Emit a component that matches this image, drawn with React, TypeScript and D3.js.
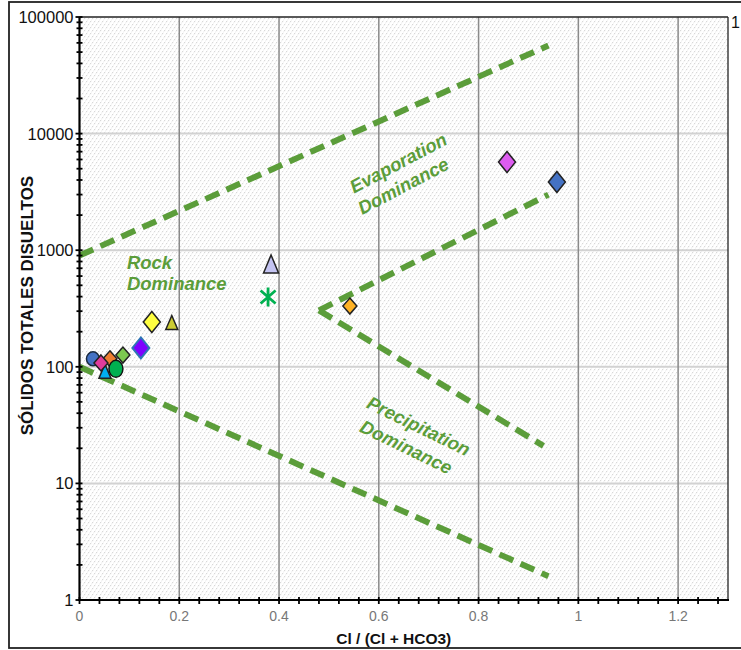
import React from "react";
import * as d3 from "d3";

// ---- data ----
const xTickValues = [0, 0.2, 0.4, 0.6, 0.8, 1, 1.2];
const xTickLabels = ["0", "0.2", "0.4", "0.6", "0.8", "1", "1.2"];
const yTickValues = [1, 10, 100, 1000, 10000, 100000];
const yTickLabels = ["1", "10", "100", "1000", "10000", "100000"];

// samples: Cl/(Cl+HCO3), TDS
const sampleX = [0.027, 0.061, 0.051, 0.043, 0.087, 0.073, 0.123, 0.145, 0.185, 0.384, 0.378, 0.542, 0.857, 0.957];
const sampleY = [117, 117, 90, 108, 126, 96, 145, 242, 235, 747, 397, 332, 5700, 3850];
const sampleShape = ["circle", "diamondS", "triangleS", "diamondS", "diamondS", "ellipse", "diamond", "diamond", "triangleS", "triangle", "asterisk", "diamondS", "diamond", "diamond"];
const sampleFill = ["#4472c4", "#ed7d31", "#00b0f0", "#e03c9c", "#7cc850", "#00b050", "#7f00ff", "#ffff40", "#cccc33", "#c4c4f2", "#00b050", "#ffb224", "#dd5cf0", "#4472c4"];
const sampleStroke = ["#1a2a40", "#222", "#222", "#222", "#222", "#111", "#2e75b6", "#222", "#222", "#222", "#00b050", "#222", "#222", "#222"];

// boundary lines (Gibbs diagram)
const boundaryLines = [
  [{ x: 0, y: 900 }, { x: 0.94, y: 57000 }],
  [{ x: 0, y: 100 }, { x: 0.94, y: 1.6 }],
  [{ x: 0.48, y: 305 }, { x: 0.94, y: 3000 }],
  [{ x: 0.48, y: 305 }, { x: 0.93, y: 21 }],
];

const annotations = [
  { text: "Evaporation", x: 0.639, y: 5600, angle: -28, anchor: "middle" },
  { text: "Dominance", x: 0.649, y: 3560, angle: -28, anchor: "middle" },
  { text: "Rock", x: 0.095, y: 690, angle: 0, anchor: "start" },
  { text: "Dominance", x: 0.095, y: 456, angle: 0, anchor: "start" },
  { text: "Precipitation", x: 0.68, y: 31, angle: 26, anchor: "middle" },
  { text: "Dominance", x: 0.655, y: 20.5, angle: 26, anchor: "middle" },
];

const W = 741;
const H = 650;
const left = 79.5;
const right = 728;
const top = 17;
const bottom = 600;
const GREEN = "#5b9d3a";
const FONT = "'Liberation Sans', Arial, sans-serif";

export default function App() {
  const x = d3.scaleLinear().domain([0, 1.3]).range([left, right]);
  const y = d3.scaleLog().domain([1, 100000]).range([bottom, top]);
  const line = d3
    .line<{ x: number; y: number }>()
    .x((d) => x(d.x))
    .y((d) => y(d.y));

  const xMinor = d3.range(0, 33).map((i) => i * 0.04);
  const yMinor: number[] = [];
  for (let p = 0; p < 5; p++) for (let k = 2; k <= 9; k++) yMinor.push(k * Math.pow(10, p));

  const marker = (i: number) => {
    const cx = x(sampleX[i]);
    const cy = y(sampleY[i]);
    const fill = sampleFill[i];
    const stroke = sampleStroke[i];
    const s = sampleShape[i];
    if (s === "circle") return <ellipse key={i} cx={cx} cy={cy} rx={6.5} ry={7} fill={fill} stroke={stroke} strokeWidth={1.5} />;
    if (s === "ellipse") return <ellipse key={i} cx={cx} cy={cy} rx={7} ry={8.5} fill={fill} stroke={stroke} strokeWidth={1.5} />;
    if (s === "diamond") {
      const w = 8.5, h = 10.5;
      return <path key={i} d={`M${cx},${cy - h}L${cx + w},${cy}L${cx},${cy + h}L${cx - w},${cy}Z`} fill={fill} stroke={stroke} strokeWidth={i === 6 ? 2 : 1.5} />;
    }
    if (s === "diamondS") {
      const w = 7, h = 8;
      return <path key={i} d={`M${cx},${cy - h}L${cx + w},${cy}L${cx},${cy + h}L${cx - w},${cy}Z`} fill={fill} stroke={stroke} strokeWidth={1.5} />;
    }
    if (s === "triangle") {
      return <path key={i} d={`M${cx},${cy - 10}L${cx + 7.5},${cy + 8}L${cx - 7.5},${cy + 8}Z`} fill={fill} stroke={stroke} strokeWidth={1.5} />;
    }
    if (s === "triangleS") {
      return <path key={i} d={`M${cx},${cy - 8}L${cx + 6},${cy + 6}L${cx - 6},${cy + 6}Z`} fill={fill} stroke={stroke} strokeWidth={1.5} />;
    }
    // asterisk
    return (
      <path key={i} d={`M${cx},${cy - 9.5}L${cx},${cy + 9.5}M${cx - 7.5},${cy - 6.5}L${cx + 7.5},${cy + 6.5}M${cx - 7.5},${cy + 6.5}L${cx + 7.5},${cy - 6.5}`} fill="none" stroke={fill} strokeWidth={2.8} />
    );
  };

  return (
    <svg width={W} height={H} style={{ position: "absolute", left: 0, top: 0, background: "#fff" }} fontFamily={FONT}>
      <defs>
        <pattern id="hatch" patternUnits="userSpaceOnUse" width={4} height={6}>
          <rect width={4} height={6} fill="#fff" />
          <rect x={0} y={0} width={1.2} height={1.2} fill="#d8d8d8" />
          <rect x={2} y={3} width={1.2} height={1.2} fill="#d8d8d8" />
          <rect x={1} y={4.5} width={1} height={1} fill="#ececec" />
          <rect x={3} y={1.5} width={1} height={1} fill="#ececec" />
        </pattern>
        <clipPath id="plotClip">
          <rect x={left} y={top} width={right - left} height={bottom - top} />
        </clipPath>
      </defs>

      {/* outer frame */}
      <rect x={9} y={2} width={W} height={646} fill="none" stroke="#222" strokeWidth={1.8} />

      {/* plot background */}
      <rect x={left} y={top} width={right - left} height={bottom - top} fill="url(#hatch)" />

      {/* horizontal grid */}
      {yTickValues.slice(1, -1).map((v) => (
        <line key={"hg" + v} x1={left} x2={right} y1={y(v)} y2={y(v)} stroke="#d2d2d2" strokeWidth={2} />
      ))}
      {/* vertical grid */}
      {xTickValues.slice(1).map((v) => (
        <line key={"vg" + v} x1={x(v)} x2={x(v)} y1={top} y2={bottom} stroke="#8a8a8a" strokeWidth={1.5} />
      ))}

      {/* plot border top/right */}
      <line x1={left} x2={right} y1={top} y2={top} stroke="#222" strokeWidth={1.3} />
      <line x1={right} x2={right} y1={top} y2={bottom} stroke="#222" strokeWidth={1.3} />

      {/* boundary lines */}
      <g clipPath="url(#plotClip)">
        {boundaryLines.map((l, i) => (
          <path key={"bl" + i} d={line(l) || ""} fill="none" stroke={GREEN} strokeWidth={6} strokeDasharray="15,8" />
        ))}
      </g>

      {/* annotations */}
      {annotations.map((a, i) => (
        <text
          key={"an" + i}
          x={x(a.x)}
          y={y(a.y)}
          transform={a.angle ? `rotate(${a.angle},${x(a.x)},${y(a.y)})` : undefined}
          textAnchor={a.anchor}
          dominantBaseline={a.angle ? "central" : "alphabetic"}
          fill={GREEN}
          fontSize={18.5}
          fontWeight="bold"
          fontStyle="italic"
        >
          {a.text}
        </text>
      ))}

      {/* markers */}
      {sampleX.map((_, i) => marker(i))}

      {/* axes */}
      <line x1={left} x2={left} y1={top} y2={bottom + 1} stroke="#000" strokeWidth={2.2} />
      <line x1={left - 1} x2={right + 1} y1={bottom} y2={bottom} stroke="#000" strokeWidth={2.2} />
      {yMinor.map((v) => (
        <line key={"ym" + v} x1={left - 3} x2={left + 3} y1={y(v)} y2={y(v)} stroke="#000" strokeWidth={1.8} />
      ))}
      {yTickValues.map((v) => (
        <line key={"yt" + v} x1={left - 4} x2={left + 3} y1={y(v)} y2={y(v)} stroke="#000" strokeWidth={1.8} />
      ))}
      {xMinor.map((v) => (
        <line key={"xm" + v} x1={x(v)} x2={x(v)} y1={bottom - 3} y2={bottom + 4} stroke="#000" strokeWidth={1.8} />
      ))}

      {/* y tick labels */}
      {yTickValues.map((v, i) => (
        <text key={"yl" + v} x={left - 6} y={y(v)} dy="0.36em" textAnchor="end" fontSize={16.5} fill="#111">
          {yTickLabels[i]}
        </text>
      ))}
      {/* x tick labels */}
      {xTickValues.map((v, i) => (
        <text key={"xl" + v} x={x(v)} y={621} textAnchor="middle" fontSize={14} fill="#777">
          {xTickLabels[i]}
        </text>
      ))}

      {/* axis titles */}
      <text x={x(0.63)} y={644} textAnchor="middle" fontSize={15.5} fontWeight="bold" fill="#111">
        Cl / (Cl + HCO3)
      </text>
      <text transform={`translate(33,${(top + bottom) / 2 - 3}) rotate(-90)`} textAnchor="middle" fontSize={17} fontWeight="bold" fill="#111">
        SÓLIDOS TOTALES DISUELTOS
      </text>

      {/* clipped secondary label at right */}
      <text x={731} y={28} fontSize={16} fill="#111">1</text>
    </svg>
  );
}
